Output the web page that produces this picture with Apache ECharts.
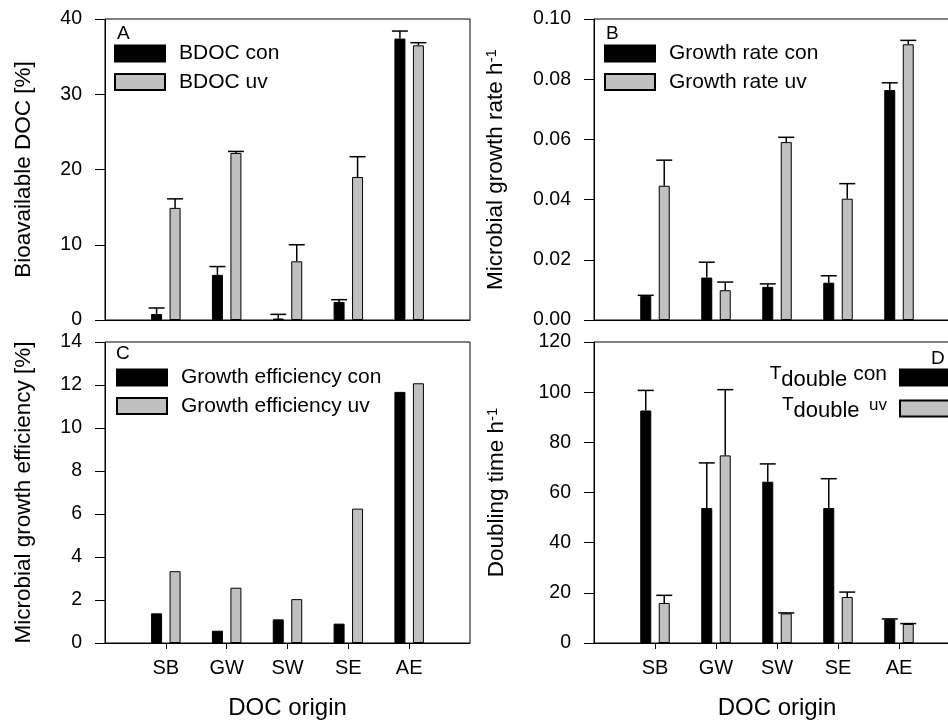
<!DOCTYPE html>
<html>
<head>
<meta charset="utf-8">
<script src="https://cdn.jsdelivr.net/npm/echarts@6/dist/echarts.min.js"></script>
<style>
html,body{margin:0;padding:0;background:#ffffff;}
#chart{width:948px;height:724px;}
</style>
</head>
<body>
<div id="chart"></div>
<script>
// ---------------- data ----------------
const categories = ['SB', 'GW', 'SW', 'SE', 'AE'];

// Panel A: Bioavailable DOC [%]
const bdocCon    = [0.8, 6.0, 0.2, 2.4, 37.4];
const bdocConErr = [0.8, 1.1, 0.55, 0.3, 1.0];
const bdocUv     = [14.9, 22.2, 7.8, 19.0, 36.5];
const bdocUvErr  = [1.2, 0.2, 2.2, 2.7, 0.35];

// Panel B: Microbial growth rate h-1
const rateCon    = [0.0080, 0.0141, 0.0110, 0.0124, 0.0764];
const rateConErr = [0.0002, 0.0051, 0.0010, 0.0023, 0.0024];
const rateUv     = [0.0446, 0.0099, 0.0591, 0.0403, 0.0916];
const rateUvErr  = [0.0085, 0.0027, 0.0016, 0.0050, 0.0013];

// Panel C: Microbial growth efficiency [%]
const effCon = [1.38, 0.57, 1.10, 0.90, 11.68];
const effUv  = [3.34, 2.57, 2.04, 6.25, 12.08];

// Panel D: Doubling time h-1
const tdCon    = [92.7, 53.8, 64.3, 53.8, 9.45];
const tdConErr = [8.0, 18.0, 7.1, 11.7, 0.15];
const tdUv     = [15.95, 74.8, 11.8, 18.35, 7.6];
const tdUvErr  = [3.05, 26.2, 0.2, 1.95, 0.15];

// axis ranges [min, max, step]
const yRangeA = [0, 40, 10];
const yRangeB = [0, 0.10, 0.02];
const yRangeC = [0, 14, 2];
const yRangeD = [0, 120, 20];

// ---------------- styling ----------------
const FONT = "'Liberation Sans', Arial, Helvetica, sans-serif";
const BLACK = '#000000';
const GRAY = '#c0c0c0';
const BAR_W = 11;
const BAR_GAP = 0.68;
const OFFSET = (BAR_W + BAR_W * BAR_GAP) / 2;
const CAP = 16;

const axisCats = [''].concat(categories, ['']);
const pad = arr => ['-'].concat(arr, ['-']);

const grids = [
  {left: 105, top: 19, width: 365, height: 301},
  {left: 594, top: 19, width: 366, height: 301},
  {left: 105, top: 342, width: 365, height: 301},
  {left: 594, top: 342, width: 366, height: 301}
].map(g => Object.assign({show: true, borderColor: BLACK, borderWidth: 1,
  backgroundColor: 'transparent', containLabel: false, outerBoundsMode: 'none'}, g));

function xAxis(gi, showLabels) {
  return {
    type: 'category', gridIndex: gi, data: axisCats, boundaryGap: false,
    axisLine: {show: true, lineStyle: {color: BLACK, width: 1}},
    axisTick: {show: showLabels, length: 6, alignWithLabel: true,
      interval: (i, v) => v !== '', lineStyle: {color: BLACK, width: 1}},
    axisLabel: {show: showLabels, interval: 0, margin: 15, color: BLACK,
      fontSize: 20, fontFamily: FONT},
    splitLine: {show: false},
    name: showLabels ? 'DOC origin' : '',
    nameLocation: 'middle', nameGap: 53,
    nameTextStyle: {color: BLACK, fontSize: 24, fontFamily: FONT}
  };
}

function yAxis(gi, range, name, nameGap, decimals) {
  return {
    type: 'value', gridIndex: gi, min: range[0], max: range[1], interval: range[2],
    axisLine: {show: true, lineStyle: {color: BLACK, width: 1}},
    axisTick: {show: true, length: 10, lineStyle: {color: BLACK, width: 1}},
    axisLabel: {margin: 23, color: BLACK, fontSize: 19.5, fontFamily: FONT,
      formatter: v => decimals ? v.toFixed(decimals) : String(Math.round(v))},
    splitLine: {show: false},
    name: name, nameLocation: 'middle', nameGap: nameGap,
    nameTextStyle: {color: BLACK, fontSize: 22.5, fontFamily: FONT,
      rich: {
        m: {fontSize: 22.5, fontFamily: FONT, color: BLACK, lineHeight: 24},
        s: {fontSize: 15, fontFamily: FONT, color: BLACK, verticalAlign: 'top'}
      }}
  };
}

function barSeries(name, gi, values, color) {
  return {
    type: 'bar', name: name, xAxisIndex: gi, yAxisIndex: gi,
    data: pad(values), barWidth: BAR_W, barGap: (BAR_GAP * 100) + '%',
    itemStyle: {color: color, borderColor: BLACK, borderWidth: 1},
    emphasis: {disabled: true}, silent: true
  };
}

function errSeries(gi, values, errs, side) {
  const data = values.map((v, i) => [i + 1, v, v + errs[i]]);
  return {
    type: 'custom', name: 'err', xAxisIndex: gi, yAxisIndex: gi, silent: true,
    encode: {x: 0, y: [1, 2]}, data: data, z: 5,
    renderItem: function (params, api) {
      const idx = api.value(0);
      const p0 = api.coord([idx, api.value(1)]);
      const p1 = api.coord([idx, api.value(2)]);
      const x = p0[0] + side * OFFSET;
      return {type: 'group', children: [
        {type: 'line', shape: {x1: x, y1: p0[1], x2: x, y2: p1[1]},
          style: {stroke: BLACK, lineWidth: 1.5}},
        {type: 'line', shape: {x1: x - CAP / 2, y1: p1[1], x2: x + CAP / 2, y2: p1[1]},
          style: {stroke: BLACK, lineWidth: 1.5}}
      ]};
    }
  };
}

function legend(names, left, top) {
  return {
    orient: 'vertical', left: left, top: top, padding: 0,
    itemWidth: 50, itemHeight: 16, itemGap: 7.5, icon: 'rect',
    selectedMode: false, data: names,
    formatter: n => '{a|' + n + '}',
    textStyle: {color: BLACK, fontSize: 21, fontFamily: FONT, lineHeight: 16,
      rich: {a: {fontSize: 21, fontFamily: FONT, color: BLACK, padding: [0, 0, 0, 9], lineHeight: 16}}}
  };
}

const legendD = {
  orient: 'vertical', right: -3, top: 364, padding: 0, align: 'right',
  itemWidth: 50, itemHeight: 16, itemGap: 4, icon: 'rect',
  selectedMode: false, data: ['Tdouble con', 'Tdouble uv'],
  formatter: n => n === 'Tdouble con'
    ? '{t|T}{s|double}{p| con}'
    : '{t|T}{s|double}{q|  uv}',
  textStyle: {color: BLACK, fontSize: 20, fontFamily: FONT,
    rich: {
      t: {fontSize: 19, fontFamily: FONT, color: BLACK, verticalAlign: 'top', lineHeight: 27},
      s: {fontSize: 22, fontFamily: FONT, color: BLACK, verticalAlign: 'bottom'},
      p: {fontSize: 21, fontFamily: FONT, color: BLACK, verticalAlign: 'top', padding: [0, 8, 0, 0]},
      q: {fontSize: 17, fontFamily: FONT, color: BLACK, verticalAlign: 'top', padding: [2, 8, 0, 0]}
    }}
};

function letter(t, left, top) {
  return {type: 'text', left: left, top: top, z: 100,
    style: {text: t, fill: BLACK, font: '19px ' + FONT}};
}

const option = {
  animation: false,
  backgroundColor: '#ffffff',
  grid: grids,
  xAxis: [xAxis(0, false), xAxis(1, false), xAxis(2, true), xAxis(3, true)],
  yAxis: [
    yAxis(0, yRangeA, 'Bioavailable DOC [%]', 70, 0),
    yAxis(1, yRangeB, '{m|Microbial growth rate h}{s|-1}', 86, 2),
    yAxis(2, yRangeC, 'Microbial growth efficiency [%]', 70, 0),
    yAxis(3, yRangeD, '{m|Doubling time h}{s|-1}', 85, 0)
  ],
  legend: [
    legend(['BDOC con', 'BDOC uv'], 114, 43),
    legend(['Growth rate con', 'Growth rate uv'], 604, 43),
    legend(['Growth efficiency con', 'Growth efficiency uv'], 116, 367),
    legendD
  ],
  graphic: [letter('A', 117, 24), letter('B', 606, 24), letter('C', 116, 344), letter('D', 931, 349)],
  series: [
    barSeries('BDOC con', 0, bdocCon, BLACK),
    barSeries('BDOC uv', 0, bdocUv, GRAY),
    errSeries(0, bdocCon, bdocConErr, -1),
    errSeries(0, bdocUv, bdocUvErr, 1),

    barSeries('Growth rate con', 1, rateCon, BLACK),
    barSeries('Growth rate uv', 1, rateUv, GRAY),
    errSeries(1, rateCon, rateConErr, -1),
    errSeries(1, rateUv, rateUvErr, 1),

    barSeries('Growth efficiency con', 2, effCon, BLACK),
    barSeries('Growth efficiency uv', 2, effUv, GRAY),

    barSeries('Tdouble con', 3, tdCon, BLACK),
    barSeries('Tdouble uv', 3, tdUv, GRAY),
    errSeries(3, tdCon, tdConErr, -1),
    errSeries(3, tdUv, tdUvErr, 1)
  ]
};

const chart = echarts.init(document.getElementById('chart'), null, {renderer: 'canvas'});
chart.setOption(option);
</script>
</body>
</html>
